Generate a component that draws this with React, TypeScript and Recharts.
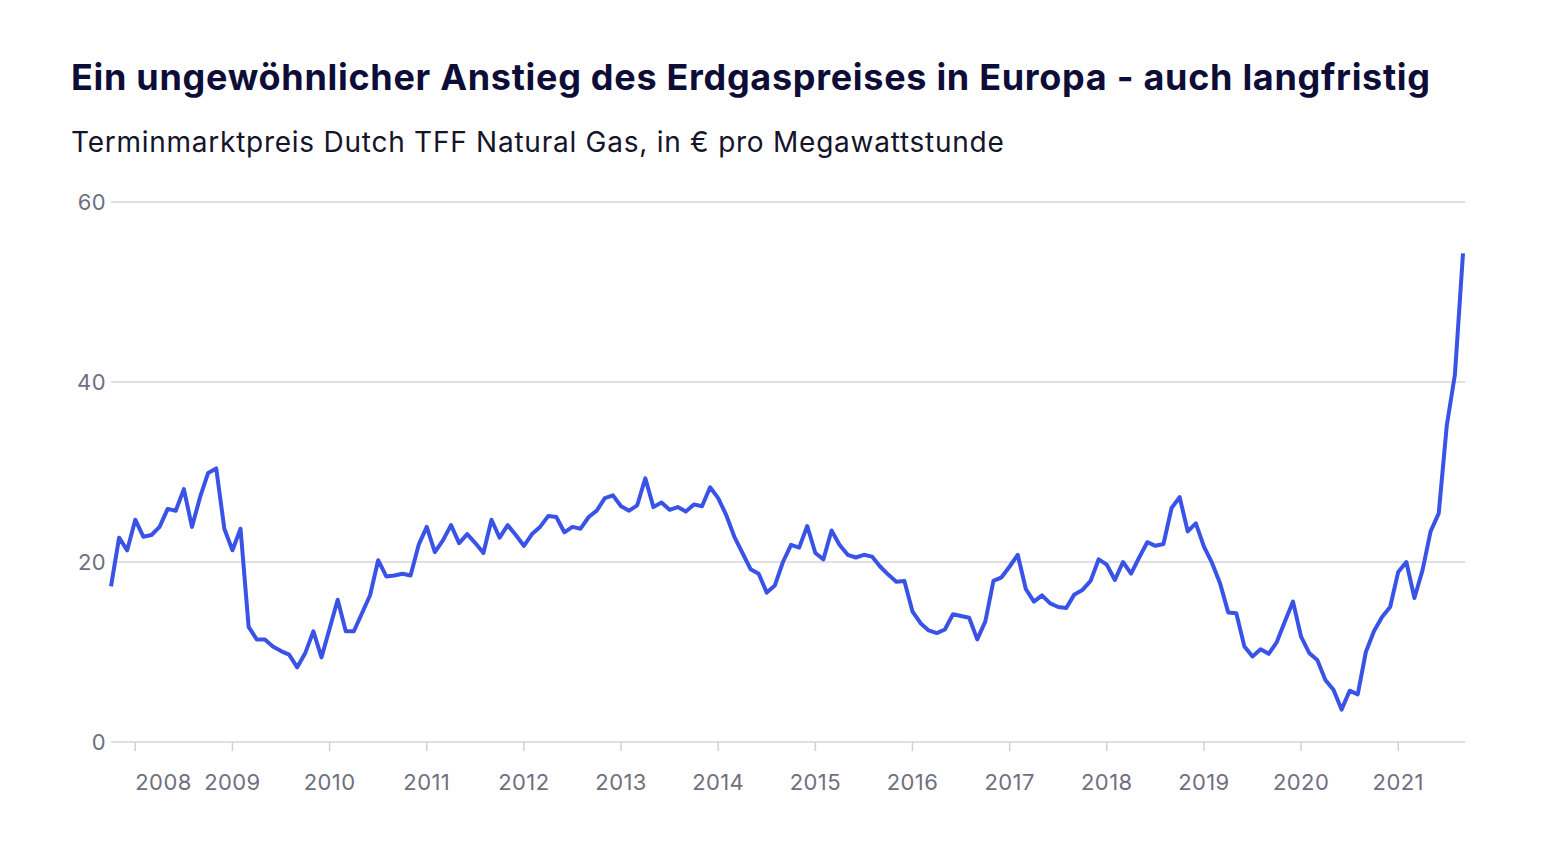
import { LineChart, Line, XAxis, YAxis, CartesianGrid } from 'recharts';

// Monatswerte (€/MWh)
const p2007 = [17.3, 22.7, 21.3]; // Okt–Dez
const p2008 = [24.7, 22.8, 23.0, 23.9, 25.9, 25.7, 28.1, 23.9, 27.2, 29.9, 30.4, 23.7];
const p2009 = [21.3, 23.7, 12.8, 11.4, 11.4, 10.6, 10.1, 9.7, 8.3, 9.9, 12.3, 9.4];
const p2010 = [12.6, 15.8, 12.3, 12.3, 14.3, 16.3, 20.2, 18.4, 18.5, 18.7, 18.5, 21.9];
const p2011 = [23.9, 21.1, 22.4, 24.1, 22.1, 23.1, 22.1, 21.0, 24.7, 22.7, 24.1, 23.0];
const p2012 = [21.8, 23.1, 23.9, 25.1, 25.0, 23.3, 23.9, 23.7, 25.0, 25.7, 27.1, 27.4];
const p2013 = [26.2, 25.7, 26.3, 29.3, 26.1, 26.6, 25.8, 26.1, 25.6, 26.4, 26.2, 28.3];
const p2014 = [27.1, 25.2, 22.8, 21.0, 19.2, 18.7, 16.6, 17.4, 20.0, 21.9, 21.6, 24.0];
const p2015 = [21.0, 20.3, 23.5, 21.9, 20.8, 20.5, 20.8, 20.6, 19.5, 18.6, 17.8, 17.9];
const p2016 = [14.5, 13.2, 12.4, 12.1, 12.5, 14.2, 14.0, 13.8, 11.4, 13.4, 17.9, 18.3];
const p2017 = [19.5, 20.8, 17.0, 15.6, 16.3, 15.4, 15.0, 14.9, 16.4, 16.9, 17.9, 20.3];
const p2018 = [19.7, 18.0, 20.0, 18.7, 20.5, 22.2, 21.8, 22.0, 26.0, 27.2, 23.4, 24.3];
const p2019 = [21.7, 19.9, 17.6, 14.4, 14.3, 10.6, 9.5, 10.3, 9.8, 11.1, 13.4, 15.6];
const p2020 = [11.7, 9.9, 9.1, 6.9, 5.8, 3.6, 5.7, 5.3, 10.0, 12.3, 13.9, 15.0];
const p2021 = [18.9, 20.0, 16.0, 19.1, 23.4, 25.4, 35.2, 40.8, 54.3]; // Jan–Sep

const prices = [
  ...p2007, ...p2008, ...p2009, ...p2010, ...p2011, ...p2012, ...p2013, ...p2014,
  ...p2015, ...p2016, ...p2017, ...p2018, ...p2019, ...p2020, ...p2021,
];

const startYear = 2007;
const startMonth = 10;

const yearTicks = [
  '2008-01', '2009-01', '2010-01', '2011-01', '2012-01', '2013-01', '2014-01',
  '2015-01', '2016-01', '2017-01', '2018-01', '2019-01', '2020-01', '2021-01',
];
const yTicks = [0, 20, 40, 60];

const data = prices.map((price, i) => {
  const m = startMonth - 1 + i;
  const year = startYear + Math.floor(m / 12);
  const month = String((m % 12) + 1).padStart(2, '0');
  return { month: `${year}-${month}`, price };
});

const FONT = 'Inter, "Noto Sans", sans-serif';
const TICK_COLOR = '#6f6f80';

function YearTick(props: any) {
  const { x, payload, index } = props;
  return (
    <text
      x={x}
      y={790}
      textAnchor={index === 0 ? 'start' : 'middle'}
      fill={TICK_COLOR}
      fontSize={22}
      letterSpacing={0.4}
      fontFamily={FONT}
    >
      {payload.value.slice(0, 4)}
    </text>
  );
}

function ValueTick(props: any) {
  const { y, payload } = props;
  return (
    <text
      x={106}
      y={y}
      dy="0.36em"
      textAnchor="end"
      fill={TICK_COLOR}
      fontSize={22}
      letterSpacing={0.4}
      fontFamily={FONT}
    >
      {payload.value}
    </text>
  );
}

export default function App() {
  return (
    <div style={{ position: 'absolute', left: 0, top: 0, width: 1543, height: 842, background: '#fff' }}>
      <svg width={1543} height={170} style={{ position: 'absolute', left: 0, top: 0 }}>
        <text
          x={71}
          y={90}
          fontFamily={FONT}
          fontWeight={700}
          fontSize={36}
          letterSpacing={0.7}
          fill="#0e0d38"
        >
          Ein ungewöhnlicher Anstieg des Erdgaspreises in Europa - auch langfristig
        </text>
        <text x={71} y={152} fontFamily={FONT} fontSize={28} letterSpacing={0.75} fill="#14142a">
          Terminmarktpreis Dutch TFF Natural Gas, in € pro Megawattstunde
        </text>
      </svg>
      <div style={{ position: 'absolute', left: 0, top: 0 }}>
        <LineChart
          width={1543}
          height={842}
          data={data}
          margin={{ top: 202, right: 78, bottom: 40, left: 61 }}
        >
          <CartesianGrid vertical={false} stroke="#d5d5dd" strokeWidth={1.5} />
          <XAxis
            dataKey="month"
            ticks={yearTicks}
            interval={0}
            axisLine={false}
            tickLine={{ stroke: '#d0d0d8', strokeWidth: 1.5 }}
            tickSize={9}
            height={60}
            padding={{ left: 0, right: 2 }}
            tick={<YearTick />}
          />
          <YAxis
            domain={[0, 60]}
            ticks={yTicks}
            width={50}
            axisLine={false}
            tickLine={false}
            tick={<ValueTick />}
          />
          <Line
            type="linear"
            dataKey="price"
            stroke="#3953e6"
            strokeWidth={4}
            dot={false}
            strokeLinejoin="round"
            isAnimationActive={false}
          />
        </LineChart>
      </div>
    </div>
  );
}
